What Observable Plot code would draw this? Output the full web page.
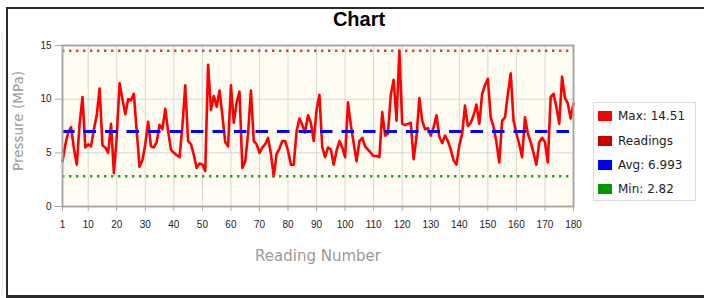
<!DOCTYPE html>
<html>
<head>
<meta charset="utf-8">
<script src="https://cdn.jsdelivr.net/npm/d3@7"></script>
<script src="https://cdn.jsdelivr.net/npm/@observablehq/plot@0.6"></script>
<style>
  body { margin: 0; background: #fff; }
  #wrap { position: relative; width: 704px; height: 298px; overflow: hidden; background: #fff; }
  #border { position: absolute; left: 6px; top: 7px; width: 720px; height: 286px;
            border-left: 2px solid #2a2a2a; border-top: 2px solid #2a2a2a; border-bottom: 3px solid #2a2a2a; }
  #faint { position: absolute; left: 2px; top: 33px; width: 1px; height: 262px; background: #e4e4e4; }
  #chart { position: absolute; left: 0; top: 0; }
  #title { position: absolute; left: 259px; width: 200px; top: 8px; text-align: center;
           font: bold 20px "Liberation Sans", Arial, sans-serif; color: #000; }
  #ylab { position: absolute; left: 18px; top: 121px; transform: translate(-50%, -50%) rotate(-90deg);
          white-space: nowrap; font: 13.5px "DejaVu Sans", Verdana, sans-serif; color: #9a9a9a; }
  #xlab { position: absolute; left: 318px; top: 256px; transform: translate(-50%, -50%);
          white-space: nowrap; font: 15px "DejaVu Sans", Verdana, sans-serif; color: #9a9a9a; }
  #legend { position: absolute; left: 593px; top: 102px; width: 101px; height: 97px;
            border: 1px solid #dcdcdc; background: #fff; font: 12px "DejaVu Sans", Verdana, sans-serif; color: #222; }
  .row { position: absolute; left: 4px; height: 14px; line-height: 14px; white-space: nowrap; }
  .sw { display: inline-block; width: 14px; height: 10px; vertical-align: -1px; margin-right: 6px; }
</style>
</head>
<body>
<div id="wrap">
  <div id="faint"></div>
  <div id="border"></div>
  <div id="chart"></div>
  <div id="title"></div>
  <div id="ylab"></div>
  <div id="xlab"></div>
  <div id="legend"></div>
</div>
<script>
// Pressure readings (MPa), readings 1..180
const readings = [
  4.2, 5.8, 6.9, 7.4, 5.4, 3.9, 7.7, 10.2, 5.5, 5.8,
  5.6, 7.2, 8.5, 11.0, 5.7, 5.5, 5.0, 7.7, 3.1, 6.5,
  11.5, 10.0, 8.6, 10.0, 9.9, 10.5, 7.0, 3.7, 4.3, 5.8,
  7.9, 5.6, 5.5, 6.0, 7.6, 7.2, 9.1, 7.0, 5.3, 5.0,
  4.8, 4.6, 7.5, 11.3, 6.1, 5.8, 4.8, 3.6, 4.0, 3.9,
  3.3, 13.2, 9.0, 10.3, 9.3, 10.8, 8.5, 6.0, 5.6, 11.3,
  7.8, 9.7, 10.7, 3.6, 4.2, 6.8, 10.8, 6.1, 5.8, 5.0,
  5.5, 5.8, 6.4, 4.9, 2.82, 4.9, 5.4, 6.1, 6.1, 5.2,
  3.9, 3.9, 7.0, 8.2, 7.6, 6.9, 8.5, 7.8, 6.1, 9.0,
  10.4, 5.5, 4.6, 5.5, 5.3, 3.9, 5.2, 6.1, 5.5, 4.6,
  9.7, 7.6, 5.9, 4.2, 6.1, 6.4, 5.6, 5.3, 5.0, 4.7,
  4.7, 4.6, 8.8, 6.6, 6.8, 10.4, 11.8, 8.0, 14.51, 7.7,
  7.6, 7.7, 7.8, 4.4, 6.5, 10.1, 8.0, 7.2, 7.3, 6.6,
  7.4, 8.5, 6.5, 5.9, 6.6, 6.1, 5.3, 4.3, 3.9, 5.7,
  6.8, 9.4, 7.5, 7.8, 8.5, 9.5, 7.7, 10.5, 11.3, 11.9,
  8.3, 7.4, 6.0, 4.1, 8.0, 8.3, 10.5, 12.4, 8.0, 6.8,
  5.8, 4.6, 8.3, 6.8, 6.0, 5.0, 3.9, 6.0, 6.4, 6.0,
  4.1, 10.2, 10.5, 9.3, 7.7, 12.1, 10.1, 9.6, 8.2, 9.6
];
const maxVal = 14.51;
const avgVal = 6.993;
const minVal = 2.82;
const xTicks = [1, 10, 20, 30, 40, 50, 60, 70, 80, 90, 100, 110, 120, 130, 140, 150, 160, 170, 180];
const yTicks = [0, 5, 10, 15];
const titleText = "Chart";
const yLabel = "Pressure (MPa)";
const xLabel = "Reading Number";
const legendLabels = ["Max: 14.51", "Readings", "Avg: 6.993", "Min: 2.82"];
const legendColors = ["#ff0000", "#c80000", "#0000ff", "#009a00"];

const data = readings.map((v, i) => ({n: i + 1, v}));

const chart = Plot.plot({
  width: 704,
  height: 298,
  marginLeft: 62,
  marginRight: 131,
  marginTop: 45,
  marginBottom: 92,
  style: {background: "transparent", fontFamily: "'Liberation Sans', Arial, sans-serif", fontSize: "10px", color: "#222"},
  x: {domain: [1, 180], label: null},
  y: {domain: [0, 15], label: null},
  marks: [
    Plot.frame({fill: "#fffcf1", stroke: null}),
    Plot.gridX(xTicks, {stroke: "#d6d6d6", strokeOpacity: 1, strokeWidth: 1}),
    Plot.gridY(yTicks, {stroke: "#d6d6d6", strokeOpacity: 1, strokeWidth: 1}),
    Plot.ruleY([maxVal], {stroke: "#e23a3a", strokeWidth: 2.4, strokeDasharray: "2.4,4.6"}),
    Plot.line(data, {x: "n", y: "v", stroke: "#ff0000", strokeWidth: 2.6, strokeLinejoin: "round"}),
    Plot.ruleY([avgVal], {stroke: "#0000ff", strokeWidth: 3, strokeDasharray: "12.5,9"}),
    Plot.ruleY([minVal], {stroke: "#1fa31f", strokeWidth: 2.4, strokeDasharray: "2.4,4.6"}),
    Plot.frame({stroke: "#a8a8a8", strokeWidth: 2}),
    Plot.axisX({ticks: xTicks, tickSize: 5, tickPadding: 9, stroke: "#aaa", fill: "#222", label: null}),
    Plot.axisY({ticks: yTicks, tickSize: 7, tickPadding: 4, stroke: "#aaa", fill: "#222", label: null})
  ]
});
document.getElementById("chart").appendChild(chart);

document.getElementById("title").textContent = titleText;
document.getElementById("ylab").textContent = yLabel;
document.getElementById("xlab").textContent = xLabel;

const legend = document.getElementById("legend");
const rowTops = [6, 31, 55, 79];
legendLabels.forEach((lab, i) => {
  const row = document.createElement("div");
  row.className = "row";
  row.style.top = rowTops[i] + "px";
  const sw = document.createElement("span");
  sw.className = "sw";
  sw.style.background = legendColors[i];
  row.appendChild(sw);
  row.appendChild(document.createTextNode(lab));
  legend.appendChild(row);
});
</script>
</body>
</html>
